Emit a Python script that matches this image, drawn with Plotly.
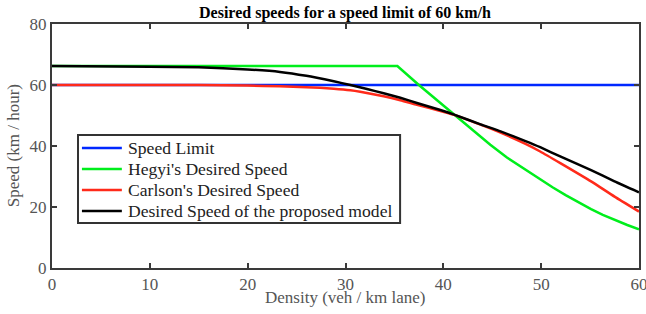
import plotly.graph_objects as go

# Data
limit_x = [0, 60]
limit_y = [60, 60]

hegyi_x = [0, 10, 20, 30, 35.3, 37.5, 39.7, 41.1, 43.1, 44.8, 46.5, 48.2, 49.9, 51.2, 52.5, 53.8, 55.1, 56.3, 57.5, 58.8, 60]
hegyi_y = [66.2, 66.2, 66.2, 66.2, 66.2, 60.0, 54.0, 50.5, 44.8, 40.4, 36.2, 32.6, 29.2, 26.4, 23.9, 21.5, 19.3, 17.4, 15.7, 14.1, 12.7]

carlson_x = [0, 10, 15, 20, 23.3, 26, 28.8, 30.5, 31.5, 33.9, 35.6, 37.3, 39.7, 41.1, 43.8, 45.85, 48.4, 49.9, 52, 55.1, 57.5, 60]
carlson_y = [60, 60, 60, 59.8, 59.6, 59.3, 58.8, 58.3, 57.8, 56.3, 55.0, 53.5, 51.5, 50.2, 47.0, 44.4, 40.7, 38.2, 34.3, 28.4, 23.4, 18.5]

proposed_x = [0, 10, 15, 20, 23.3, 26, 28.8, 30.5, 32.2, 33.9, 35.6, 37.3, 39.7, 41.1, 43.8, 45.85, 48.4, 49.9, 52, 55.1, 57.5, 60]
proposed_y = [66.2, 66.0, 65.8, 65.1, 64.3, 63.0, 61.2, 60.0, 58.7, 57.3, 55.8, 54.1, 51.8, 50.3, 47.1, 44.8, 41.6, 39.6, 36.5, 32.1, 28.4, 24.8]

x_ticks = [0, 10, 20, 30, 40, 50, 60]
y_ticks = [0, 20, 40, 60, 80]

series = [
    ("Speed Limit", limit_x, limit_y, "#0028ff", "linear"),
    ("Hegyi's Desired Speed", hegyi_x, hegyi_y, "#00ee1c", "linear"),
    ("Carlson's Desired Speed", carlson_x, carlson_y, "#ff2a1a", "spline"),
    ("Desired Speed of the proposed model", proposed_x, proposed_y, "#000000", "spline"),
]

FONT = "Liberation Serif"
AXC = "#3a3a3a"
TXC = "#555555"

fig = go.Figure()
for name, xs, ys, col, shp in series:
    line = dict(color=col, width=2.5, shape=shp)
    if shp == "spline":
        line["smoothing"] = 0.5
    fig.add_trace(go.Scatter(x=xs, y=ys, mode="lines", name=name,
                             line=line, showlegend=False))

axis_common = dict(
    showline=True, linecolor=AXC, linewidth=2, mirror="ticks",
    ticks="inside", ticklen=5, tickwidth=2, tickcolor=AXC,
    showgrid=False, zeroline=False, automargin=False,
    ticklabeloverflow="allow",
    tickfont=dict(family=FONT, size=17, color=TXC),
)
fig.update_xaxes(range=[0, 60], tickvals=x_ticks, **axis_common)
fig.update_yaxes(range=[0, 80], tickvals=y_ticks, **axis_common)

annotations = [
    dict(text="Density (veh / km lane)", xref="paper", yref="paper", x=0.5, y=-0.119,
         xanchor="center", yanchor="middle", showarrow=False,
         font=dict(family=FONT, size=17, color=TXC)),
    dict(text="Speed (km / hour)", xref="paper", yref="paper", x=-0.066, y=0.5,
         xanchor="center", yanchor="middle", showarrow=False, textangle=-90,
         font=dict(family=FONT, size=17, color=TXC)),
]

# Manual legend box (MATLAB style)
shapes = [dict(type="rect", xref="paper", yref="paper", x0=0.0443, x1=0.593,
               y0=0.184, y1=0.545, line=dict(color="#333333", width=2),
               fillcolor="white", layer="above")]
entry_y = [0.492, 0.406, 0.320, 0.234]
for (name, _, _, col, _), ey in zip(series, entry_y):
    shapes.append(dict(type="line", xref="paper", yref="paper", x0=0.051, x1=0.119,
                       y0=ey, y1=ey, line=dict(color=col, width=2.5), layer="above"))
    annotations.append(dict(text=name, xref="paper", yref="paper", x=0.126, y=ey,
                            xanchor="left", yanchor="middle", showarrow=False,
                            font=dict(family=FONT, size=17.6, color="#222222")))

fig.update_layout(
    width=646, height=314,
    margin=dict(l=52, r=7, t=24, b=46),
    plot_bgcolor="white", paper_bgcolor="white",
    title=dict(text="<b>Desired speeds for a speed limit of 60 km/h</b>",
               x=0.534, xref="container", xanchor="center", y=0.962, yanchor="middle",
               font=dict(family=FONT, size=16, color="#000000")),
    annotations=annotations,
    shapes=shapes,
    showlegend=False,
)

fig.write_html("out.html", config={"displayModeBar": False},
               post_script="document.body.style.margin='0';document.body.style.padding='0';")
